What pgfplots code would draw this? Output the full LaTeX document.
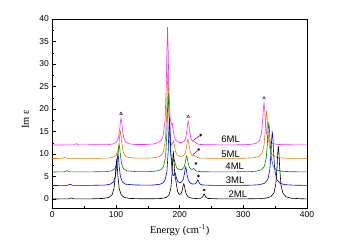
\documentclass[border=0pt]{standalone}
\usepackage{pgfplots}
\pgfplotsset{compat=1.18}
\usepackage{fontspec}
\setmainfont{Liberation Serif}
\newfontfamily\sansf{Liberation Sans}
\definecolor{cmag}{RGB}{255,40,255}
\definecolor{corg}{RGB}{230,125,0}
\definecolor{cgrn}{RGB}{0,135,0}
\definecolor{cblu}{RGB}{0,0,255}
\begin{document}
\begin{tikzpicture}
\useasboundingbox (-52.3pt,-42pt) rectangle (285.7pt,208pt);
\begin{axis}[
  at={(0,0)}, anchor=south west,
  scale only axis, width=254.7pt, height=189pt,
  xmin=0, xmax=400, ymin=-2, ymax=40,
  xtick={0,100,200,300,400}, ytick={0,5,10,15,20,25,30,35,40},
  minor x tick num=1, minor y tick num=1,
  tick pos=left, tick align=inside,
  major tick length=3.5pt, minor tick length=2pt,
  axis line style={line width=0.6pt},
  every tick/.style={line width=0.5pt, black},
  /pgf/number format/assume math mode=true,
  ticklabel style={font=\sansf\fontsize{8.5}{10}\selectfont},
  xlabel={Energy (cm\textsuperscript{-1})},
  ylabel={Im ε},
  xlabel style={font=\fontsize{10.5}{12}\selectfont, at={(axis description cs:0.5,-0.118)}, anchor=center},
  ylabel style={font=\fontsize{10.5}{12}\selectfont, at={(axis description cs:-0.105,0.47)}, anchor=center},
  every axis plot/.append style={line width=0.6pt, mark=none},
  clip=true,
]
% 6ML
\addplot[cmag] coordinates {
(0,12.0)(30,12.02)(34,12.03)(38,12.3)(42,12.03)(60,12.05)(80,12.08)(88,12.1)(96,12.25)(101,12.68)(104,13.69)(106,15.66)(107,17.17)(108,18.0)(109,17.17)(110,15.66)(112,13.69)(115,12.68)(120,12.28)(130,12.12)(140,12.1)(150,12.13)(160,12.25)(166,12.5)(171,13.05)(174,14.0)(177,17.3)(179,25.1)(180,33.0)(181,38.2)(182,33.1)(183,25.35)(185,17.94)(187,16.57)(188.5,16.76)(190,15.2)(192,13.64)(195,12.87)(200,12.54)(204,12.59)(207,12.85)(209.5,13.6)(211.5,15.3)(212.5,16.6)(213.5,17.3)(214.5,16.6)(215.5,15.3)(217.5,13.56)(220.5,12.77)(224,12.7)(227,12.3)(232,12.12)(250,12.05)(280,12.03)(300,12.06)(312,12.14)(320.5,12.39)(325.5,13.05)(328.5,14.61)(330.5,17.67)(331.5,20.02)(332.5,21.3)(333.5,20.02)(334.5,17.67)(336.5,14.61)(339.5,13.05)(344.5,12.39)(352.5,12.14)(365,12.06)(400,12.01)
};
% 5ML
\addplot[corg] coordinates {
(0,9.0)(16,9.03)(20,9.3)(24,9.03)(60,9.03)(87,9.09)(95,9.25)(100,9.68)(103,10.69)(105,12.66)(106,14.17)(107,15.0)(108,14.17)(109,12.66)(111,10.69)(114,9.68)(119,9.25)(130,9.1)(150,9.1)(160,9.18)(166.5,9.35)(171.5,9.76)(174.5,10.48)(177.5,12.87)(179.5,18.6)(180.5,24.3)(181.5,28.14)(182.5,24.38)(183.5,18.73)(185.5,13.21)(187.5,11.86)(189.5,12.57)(190.5,12.94)(191.5,12.18)(193.5,10.5)(196.5,9.72)(200,9.5)(204,9.51)(206,9.64)(209,10.3)(211,11.66)(212,12.72)(213,13.3)(214,12.72)(215,11.66)(217,10.33)(220,9.6)(224,9.65)(227,9.27)(232,9.09)(260,9.03)(300,9.05)(316.5,9.16)(324.5,9.44)(329.5,10.19)(332.5,11.95)(334.5,15.4)(335.5,18.05)(336.5,19.5)(337.5,18.05)(338.5,15.4)(340.5,11.95)(343.5,10.19)(348.5,9.44)(356.5,9.16)(370,9.05)(400,9.01)
};
% 4ML
\addplot[cgrn] coordinates {
(0,6.0)(19,6.03)(23,6.3)(27,6.03)(60,6.03)(85,6.09)(93,6.25)(98,6.68)(101,7.69)(103,9.66)(104,11.17)(105,12.0)(106,11.17)(107,9.66)(109,7.69)(112,6.68)(117,6.25)(130,6.1)(150,6.08)(160,6.15)(167,6.32)(172,6.68)(175,7.35)(178,9.55)(180,14.82)(181,20.08)(182,23.59)(183,20.1)(184,14.88)(186,9.73)(188,8.28)(190,8.36)(191.5,8.8)(193,7.91)(195.5,6.87)(199,6.52)(204,6.57)(207,7.09)(209,8.24)(210,9.12)(211,9.59)(212,9.1)(213,8.25)(215,7.1)(218,6.58)(220,6.6)(222,6.8)(224,6.45)(227,6.17)(235,6.05)(280,6.03)(310,6.08)(320,6.17)(328,6.46)(333,7.24)(336,9.09)(338,12.71)(339,15.48)(340,17.0)(341,15.48)(342,12.71)(344,9.09)(347,7.24)(352,6.46)(360,6.17)(375,6.06)(400,6.02)
};
% 3ML
\addplot[cblu] coordinates {
(0,3.0)(24,3.03)(28,3.3)(32,3.03)(60,3.03)(83,3.1)(91,3.29)(96,3.79)(99,4.97)(101,7.27)(102,9.03)(103,10.0)(104,9.03)(105,7.27)(107,4.97)(110,3.79)(115,3.29)(130,3.12)(150,3.07)(160,3.12)(169,3.28)(174,3.6)(177,4.18)(180,6.05)(182,10.56)(183,15.07)(184,18.08)(185,15.12)(186,10.65)(188,6.33)(190,5.19)(191.5,5.35)(193,5.79)(194.5,4.92)(197,3.89)(200,3.64)(202.5,3.73)(205.5,4.32)(207.5,5.57)(208.5,6.57)(209.5,7.12)(210.5,6.55)(211.5,5.54)(213.5,4.21)(216.5,3.56)(220,3.34)(224.5,3.35)(226.5,3.68)(227.5,4.03)(228.5,4.27)(229.5,4.02)(230.5,3.65)(232.5,3.28)(236,3.12)(250,3.04)(290,3.02)(315,3.08)(325.5,3.18)(333.5,3.5)(338.5,4.36)(341.5,6.37)(343.5,10.32)(344.5,13.34)(345.5,15.0)(346.5,13.34)(347.5,10.32)(349.5,6.37)(352.5,4.36)(357.5,3.5)(365.5,3.18)(380,3.07)(400,3.03)
};
% 2ML
\addplot[black] coordinates {
(0,0)(26,0.03)(30,0.25)(34,0.03)(60,0.03)(81,0.13)(89,0.36)(94,0.96)(97,2.39)(99,5.19)(100,7.33)(101,8.5)(102,7.33)(103,5.19)(105,2.39)(108,0.96)(113,0.36)(121,0.13)(140,0.05)(160,0.06)(170,0.11)(175,0.2)(180,0.43)(183,0.83)(186,2.19)(188,5.34)(189,8.48)(190,10.65)(191,8.84)(192,6.16)(193,4.84)(194,4.16)(195,3.15)(197,1.6)(199.5,1.02)(202.5,1.25)(204.5,2.21)(205.5,2.99)(206.5,3.4)(207.5,2.95)(208.5,2.12)(210.5,1.04)(213.5,0.47)(218,0.21)(225,0.11)(232,0.15)(235,0.3)(236.5,0.57)(237.5,0.9)(238.5,1.12)(239.5,0.9)(240.5,0.57)(242,0.3)(245,0.12)(260,0.04)(300,0.03)(325,0.08)(335,0.18)(343,0.5)(348,1.33)(351,3.32)(353,7.2)(354,10.17)(355,11.8)(356,10.17)(357,7.2)(359,3.32)(362,1.33)(367,0.5)(375,0.18)(390,0.06)(400,0.03)
};
% annotation markers
\addplot[only marks, mark=triangle, mark size=1.6pt, line width=0.4pt, black] coordinates {(108,19.0)(213.5,18.3)(332.5,22.4)};
\addplot[only marks, mark=asterisk, mark size=1.4pt, line width=0.4pt, black] coordinates {(233,14.2)(230,11.0)(225.5,7.9)(229.5,5.1)(238.5,2.0)};
\addplot[black, line width=0.4pt] coordinates {(221,13.0)(231,14.0)};
\addplot[black, line width=0.4pt] coordinates {(220.5,9.8)(228.5,10.8)};
% labels
\node[font=\sansf\fontsize{9.5}{11}\selectfont] at (axis cs:280,13.2) {6ML};
\node[font=\sansf\fontsize{9.5}{11}\selectfont] at (axis cs:280,10.0) {5ML};
\node[font=\sansf\fontsize{9.5}{11}\selectfont] at (axis cs:286.5,7.3) {4ML};
\node[font=\sansf\fontsize{9.5}{11}\selectfont] at (axis cs:287,4.1) {3ML};
\node[font=\sansf\fontsize{9.5}{11}\selectfont] at (axis cs:291.5,1.1) {2ML};
\end{axis}
\end{tikzpicture}
\end{document}
